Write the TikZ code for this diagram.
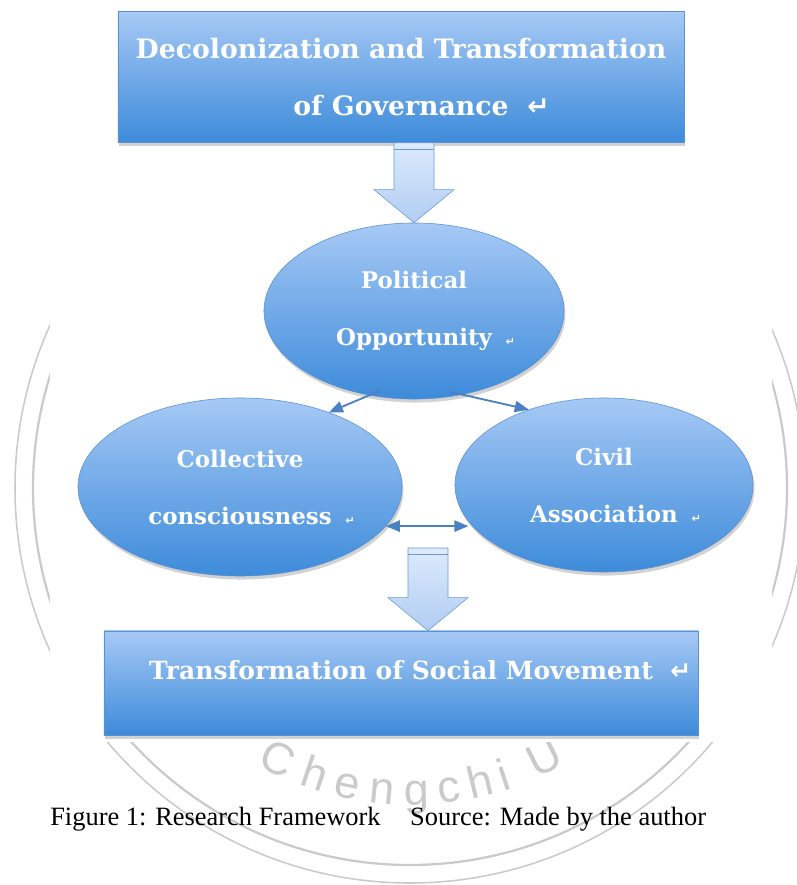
\documentclass[tikz,border=0pt]{standalone}
\usepackage{fontspec}
\setmainfont{Liberation Serif}
\newfontfamily\cadrefont{DejaVu Serif}
\newfontfamily\symbfont{DejaVu Sans}
\newfontfamily\filigranefont{Liberation Sans}
\usepackage{pgf,tikz}
\usetikzlibrary{calc,shapes,backgrounds,arrows,shadows,positioning}

\definecolor{boxtop}{HTML}{A6C9F5}
\definecolor{boxbot}{HTML}{3D8BDA}
\definecolor{boxline}{HTML}{5B90D2}
\definecolor{arrtop}{HTML}{DDEBFC}
\definecolor{arrbot}{HTML}{B0CDF2}
\definecolor{arrline}{HTML}{6A98D4}
\definecolor{linkblue}{HTML}{4A80C4}
\definecolor{wmgray}{HTML}{CACACA}

% marque de paragraphe
\newcommand{\retour}{\rlap{\hspace{0.7em}{\symbfont ↵}}}
\newcommand{\petitretour}{\rlap{\hspace{0.6em}{\symbfont\fontsize{8}{8}\selectfont ↵}}}

\begin{document}
\begin{tikzpicture}[x=0.025cm,y=-0.025cm]
  %% CADRE DE RECHERCHE
  \useasboundingbox (0,0) rectangle (796,885);

  \tikzstyle{bluebox}=[rectangle,draw=boxline,top color=boxtop,bottom color=boxbot,
    drop shadow={opacity=.35,shadow xshift=1pt,shadow yshift=-2.5pt},
    text=white,align=center,inner sep=0pt]
  \tikzstyle{blueblob}=[bluebox,ellipse,font=\cadrefont\bfseries\fontsize{16.3}{40.5}\selectfont]
  \tikzstyle{fatarrow}=[draw=arrline,top color=arrtop,bottom color=arrbot]
  \tikzstyle{link}=[-{triangle 45[scale=1.9]},draw=linkblue,line width=1.3pt,shorten <=-9pt]
  \tikzstyle{wmletter}=[text=wmgray,font=\filigranefont\fontsize{32}{32}\selectfont,
    inner sep=0pt,anchor=base]

  % filigrane
  \draw[wmgray,line width=1.1pt] (410,488) circle [radius=395];
  \draw[wmgray,line width=1.6pt] (410,488) circle [radius=377];
  \foreach \angle/\lettre [count=\k] in {116/C,108.4/h,101.8/e,95.3/n,88.8/g,82.6/c,76.5/h,72/i,63.5/U} {
    \node[wmletter,rotate=90-\angle] (wm\k) at ($(410,488)+(\angle:317)$) {\lettre};
  }
  \fill[white] (50,0) rectangle (772,742);

  % boites
  \node[bluebox,minimum width=14.15cm,minimum height=3.28cm,
    font=\cadrefont\bfseries\fontsize{19}{40.5}\selectfont] (gov) at (401,77)
  {Decolonization and Transformation\\of Governance\retour};

  \node[blueblob,minimum width=7.5cm,minimum height=4.4cm] (pol) at (414,311)
  {Political\\Opportunity\petitretour};
  \node[blueblob,minimum width=8.1cm,minimum height=4.45cm] (col) at (240,487)
  {Collective\\consciousness\petitretour};
  \node[blueblob,minimum width=7.45cm,minimum height=4.35cm] (civ) at (604,485)
  {Civil\\Association\petitretour};

  \node[bluebox,minimum width=14.85cm,minimum height=2.6cm,text height=.5cm,text depth=.7cm,
    font=\cadrefont\bfseries\fontsize{17.8}{20}\selectfont] (mov) at (401,683)
  {Transformation of Social Movement\retour};

  % grosses fleches
  \draw[fatarrow] ($(gov.south -| pol.north)+(-20,0)$) -- ($(pol.north)+(-20,-33)$)
  -- ($(pol.north)+(-40,-33)$) -- (pol.north) -- ($(pol.north)+(40,-33)$)
  -- ($(pol.north)+(20,-33)$) -- ($(gov.south -| pol.north)+(20,0)$) -- cycle;
  \draw[arrline] ($(gov.south -| pol.north)+(-20,6)$) -- ++(40,0);

  \coordinate (haut) at (428,548);
  \draw[fatarrow] ($(haut)+(-20,0)$) -- ($(haut |- mov.north)+(-20,-33)$)
  -- ($(haut |- mov.north)+(-40,-33)$) -- (haut |- mov.north) -- ($(haut |- mov.north)+(40,-33)$)
  -- ($(haut |- mov.north)+(20,-33)$) -- ($(haut)+(20,0)$) -- cycle;
  \draw[arrline] ($(haut)+(-20,6)$) -- ++(40,0);

  % liens
  \draw[link] (pol.-118) -- (col.40);
  \draw[link] (pol.-60) -- (civ.135);
  \draw[link,shorten <=0pt,{triangle 45[scale=1.9]}-{triangle 45[scale=1.9]}]
  (col.-15) -- (col.-15 -| civ.195);

  % legende
  \node[anchor=base west,inner sep=0pt,font=\fontsize{18.8}{22}\selectfont] (legende) at (50,825)
  {Figure 1: Research Framework\hspace{21pt}Source: Made by the author};
\end{tikzpicture}
\end{document}
